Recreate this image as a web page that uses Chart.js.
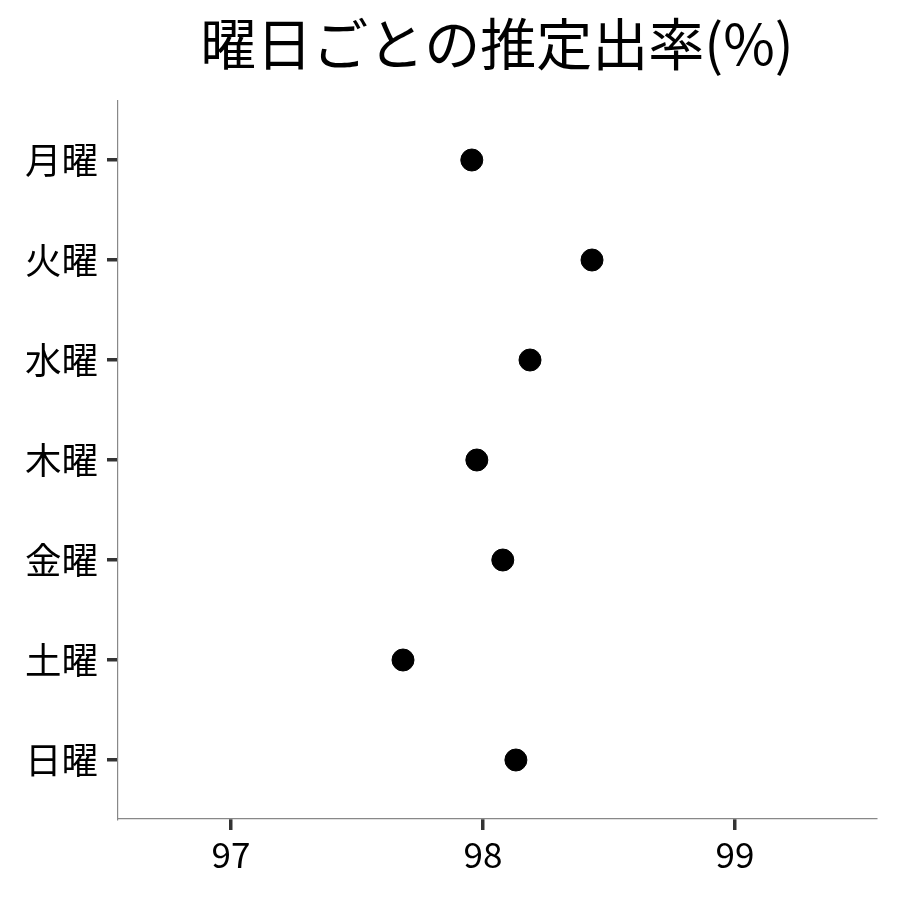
<!DOCTYPE html>
<html>
<head>
<meta charset="utf-8">
<script src="https://cdn.jsdelivr.net/npm/chart.js@4"></script>
<style>
html,body{margin:0;padding:0;background:#fff;}
#wrap{width:900px;height:900px;}
</style>
</head>
<body>
<div id="wrap"><canvas id="c" width="900" height="900"></canvas></div>
<script>
const days = ['月曜','火曜','水曜','木曜','金曜','土曜','日曜'];
const rates = [97.956, 98.433, 98.187, 97.976, 98.079, 97.683, 98.131];
const xTicks = [97, 98, 99];
const titleText = '曜日ごとの推定出率(%)';

const FONT = '"Noto Sans CJK JP", "Noto Sans", sans-serif';

new Chart(document.getElementById('c'), {
  type: 'scatter',
  data: {
    datasets: [{
      data: rates.map((v, i) => ({x: v, y: i})),
      backgroundColor: '#000',
      borderColor: '#000',
      pointRadius: 11,
      pointHoverRadius: 11
    }]
  },
  options: {
    responsive: false,
    animation: false,
    devicePixelRatio: 1,
    layout: {padding: {left: 0, right: 24, top: 0, bottom: 0}},
    plugins: {
      legend: {display: false},
      tooltip: {enabled: false},
      title: {
        display: true,
        fullSize: false,
        text: titleText,
        color: '#000',
        font: {family: FONT, size: 56, weight: 'normal', lineHeight: 1.2},
        padding: {top: 10, bottom: 23.8}
      }
    },
    scales: {
      x: {
        type: 'linear',
        min: 96.552,
        max: 99.56,
        afterBuildTicks: s => { s.ticks = xTicks.map(v => ({value: v})); },
        afterFit: s => { s.height = 81; },
        grid: {display: true, drawOnChartArea: false, drawTicks: true, tickLength: 11, color: '#333', tickColor: '#333', lineWidth: 3.5, tickWidth: 3.5},
        border: {display: true, color: '#888', width: 1.2},
        ticks: {color: '#000', padding: 4, font: {family: FONT, size: 35}, callback: v => String(v)}
      },
      y: {
        type: 'linear',
        reverse: true,
        min: -0.59,
        max: 6.59,
        afterBuildTicks: s => { s.ticks = days.map((d, i) => ({value: i})); },
        afterFit: s => { s.width = 118; },
        grid: {display: true, drawOnChartArea: false, drawTicks: true, tickLength: 11, color: '#333', tickColor: '#333', lineWidth: 3.5, tickWidth: 3.5},
        border: {display: true, color: '#888', width: 1.2},
        ticks: {color: '#000', padding: 9, font: {family: FONT, size: 36.5}, callback: v => days[Math.round(v)] || ''}
      }
    }
  }
});
</script>
</body>
</html>
